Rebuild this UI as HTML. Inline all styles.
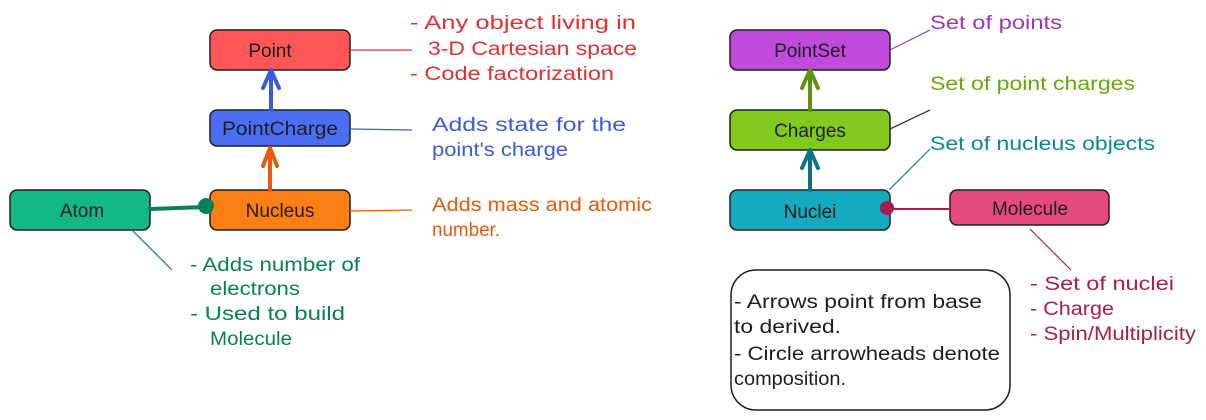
<!DOCTYPE html>
<html><head><meta charset="utf-8"><style>
html,body{margin:0;padding:0;background:#fff;}
svg{display:block;}
text{font-family:"Liberation Sans",sans-serif;font-size:19px;}
</style></head><body>
<svg width="1206" height="420" viewBox="0 0 1206 420" xmlns="http://www.w3.org/2000/svg">
<g stroke="#1e1e1e" stroke-width="1.5">
<rect x="210" y="30" width="140" height="40" rx="7" fill="#ff5757"/>
<rect x="210" y="110" width="140" height="36" rx="7" fill="#4c6ef5"/>
<rect x="210" y="190" width="140" height="40" rx="7" fill="#fd7e14"/>
<rect x="10" y="190" width="140" height="40" rx="7" fill="#12b886"/>
<rect x="730" y="30" width="160" height="40" rx="7" fill="#be4bdb"/>
<rect x="730" y="110" width="160" height="40" rx="7" fill="#82c91e"/>
<rect x="730" y="190" width="160" height="40" rx="7" fill="#15aabf"/>
<rect x="950" y="190" width="159" height="35" rx="7" fill="#e64980"/>
<rect x="731" y="270" width="279" height="140" rx="25" fill="#fff"/>
</g>
<g fill="none" stroke-linecap="round" stroke-linejoin="round" stroke-width="4">
<path d="M271 110 L271 70 M263 88 L271 70 L279 88" stroke="#3b5bdb"/>
<path d="M270 190 L270 148 M263 166 L270 148 L277 166" stroke="#e8590c"/>
<path d="M810 110 L810 70 M802 88 L810 70 L818 88" stroke="#5c940d"/>
<path d="M810 190 L810 150 M802 168 L810 150 L818 168" stroke="#0b7285"/>
<path d="M150 209 L205 207" stroke="#087f5b"/>
</g>
<circle cx="206" cy="206" r="8" fill="#087f5b"/>
<path d="M890 209 L950 209" stroke="#a61e4d" stroke-width="2"/>
<circle cx="887" cy="208" r="7" fill="#a61e4d"/>
<g stroke-width="1.2" fill="none">
<path d="M350 50 L412 50" stroke="#e03131"/>
<path d="M350 129 L412 130" stroke="#3b5bdb"/>
<path d="M350 211 L412 210" stroke="#e8590c"/>
<path d="M132 230 L172 270" stroke="#087f5b"/>
<path d="M890 50 L930 30" stroke="#9c36b5"/>
<path d="M890 129 L930 110" stroke="#1e1e1e"/>
<path d="M889 190 L930 149" stroke="#0c8599"/>
<path d="M1030 229 L1071 270" stroke="#a61e4d"/>
</g>
<g fill="#1e1e1e" text-anchor="middle" font-size="19">
<text x="270" y="57">Point</text>
<text x="280" y="135" textLength="116" lengthAdjust="spacingAndGlyphs">PointCharge</text>
<text x="280" y="217">Nucleus</text>
<text x="82" y="217">Atom</text>
<text x="810" y="57">PointSet</text>
<text x="810" y="137">Charges</text>
<text x="810" y="218">Nuclei</text>
<text x="1030" y="215">Molecule</text>
</g>
<g fill="#e03131">
<text x="410" y="29" textLength="226" lengthAdjust="spacingAndGlyphs">- Any object living in</text>
<text x="428" y="55" textLength="209" lengthAdjust="spacingAndGlyphs">3-D Cartesian space</text>
<text x="410" y="80" textLength="204" lengthAdjust="spacingAndGlyphs">- Code factorization</text>
</g>
<g fill="#3b5bdb">
<text x="432" y="131" textLength="194" lengthAdjust="spacingAndGlyphs">Adds state for the</text>
<text x="432" y="156" textLength="136" lengthAdjust="spacingAndGlyphs">point's charge</text>
</g>
<g fill="#e8590c">
<text x="432" y="211" textLength="220" lengthAdjust="spacingAndGlyphs">Adds mass and atomic</text>
<text x="432" y="236" textLength="68" lengthAdjust="spacingAndGlyphs">number.</text>
</g>
<g fill="#087f5b">
<text x="190" y="271" textLength="170" lengthAdjust="spacingAndGlyphs">- Adds number of</text>
<text x="210" y="295" textLength="90" lengthAdjust="spacingAndGlyphs">electrons</text>
<text x="190" y="320" textLength="155" lengthAdjust="spacingAndGlyphs">- Used to build</text>
<text x="210" y="345" textLength="82" lengthAdjust="spacingAndGlyphs">Molecule</text>
</g>
<text x="930" y="29" fill="#9c36b5" textLength="132" lengthAdjust="spacingAndGlyphs">Set of points</text>
<text x="930" y="90" fill="#66a80f" textLength="205" lengthAdjust="spacingAndGlyphs">Set of point charges</text>
<text x="930" y="150" fill="#0c8599" textLength="225" lengthAdjust="spacingAndGlyphs">Set of nucleus objects</text>
<g fill="#a61e4d">
<text x="1030" y="290" textLength="144" lengthAdjust="spacingAndGlyphs">- Set of nuclei</text>
<text x="1030" y="315" textLength="84" lengthAdjust="spacingAndGlyphs">- Charge</text>
<text x="1030" y="340" textLength="166" lengthAdjust="spacingAndGlyphs">- Spin/Multiplicity</text>
</g>
<g fill="#1e1e1e">
<text x="734" y="308" textLength="248" lengthAdjust="spacingAndGlyphs">- Arrows point from base</text>
<text x="734" y="333" textLength="107" lengthAdjust="spacingAndGlyphs">to derived.</text>
<text x="734" y="360" textLength="266" lengthAdjust="spacingAndGlyphs">- Circle arrowheads denote</text>
<text x="734" y="385" textLength="112" lengthAdjust="spacingAndGlyphs">composition.</text>
</g>
</svg>
</body></html>
